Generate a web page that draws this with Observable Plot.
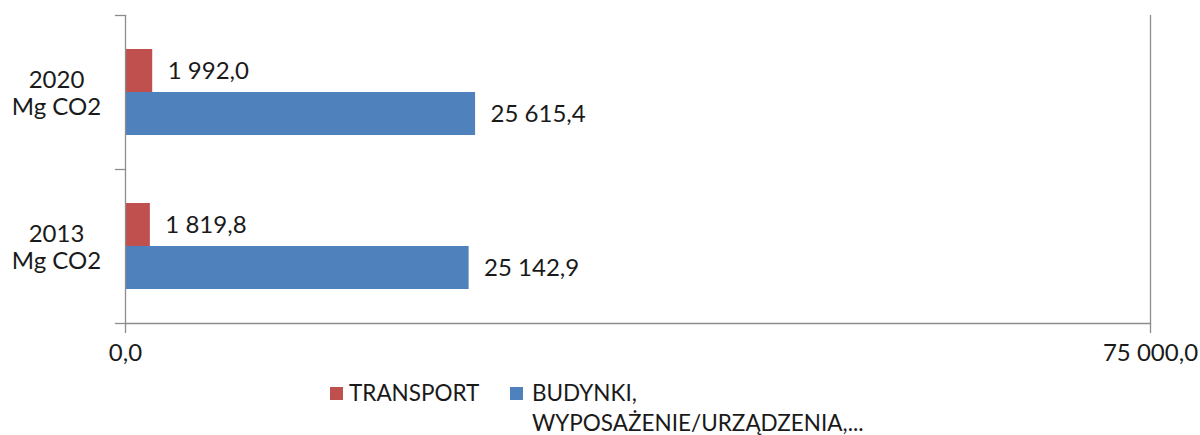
<!DOCTYPE html>
<html>
<head>
<meta charset="utf-8">
<script src="https://cdn.jsdelivr.net/npm/d3@7"></script>
<script src="https://cdn.jsdelivr.net/npm/@observablehq/plot@0.6"></script>
<style>
  html, body { margin: 0; padding: 0; background: #fff; }
  body { width: 1200px; height: 435px; overflow: hidden; font-family: Lato, "Open Sans", sans-serif; color: #1a1a1a; }
  #chart svg { display: block; }
  #legend { position: relative; height: 65px; font-size: 22.5px; line-height: 30px; }
  .item { position: absolute; top: 8px; display: flex; align-items: flex-start; }
  .sw { width: 13px; height: 13px; margin-top: 9px; flex: none; }
</style>
</head>
<body>
<div id="chart"></div>
<div id="legend"></div>
<script>
const years = ["2020", "2013"];
const yearLabels = ["2020\nMg CO2", "2013\nMg CO2"];
const seriesNames = ["TRANSPORT", "BUDYNKI, WYPOSAŻENIE/URZĄDZENIA,..."];
const transportValues = [1992.0, 1819.8];
const budynkiValues = [25615.4, 25142.9];
const xTicks = [0, 75000];
const colors = ["#C0504D", "#4F81BD"];

const locale = d3.formatLocale({decimal: ",", thousands: " ", grouping: [3], currency: ["", ""]});
const fmt = locale.format(",.1f");

const data = [];
years.forEach((yr, i) => {
  data.push({year: yr, series: seriesNames[0], value: transportValues[i]});
  data.push({year: yr, series: seriesNames[1], value: budynkiValues[i]});
});
const yearLabel = new Map(years.map((y, i) => [y, yearLabels[i]]));

const axisColor = "#8c8c8c";
const plotW = 1200 - 125 - 50;

const chart = Plot.plot({
  width: 1200,
  height: 370,
  marginLeft: 125,
  marginRight: 50,
  marginTop: 15,
  marginBottom: 47,
  style: {fontFamily: "Lato, 'Open Sans', sans-serif", fontSize: "24px", color: "#1a1a1a"},
  x: {domain: [0, 75000]},
  y: {domain: seriesNames, paddingInner: 0, paddingOuter: 0.77, axis: null},
  fy: {domain: years, padding: 0},
  color: {domain: seriesNames, range: colors},
  marks: [
    Plot.barX(data, {x: "value", y: "series", fy: "year", fill: "series"}),
    Plot.ruleX(xTicks, {stroke: axisColor, strokeWidth: 1.3}),
    Plot.frame({anchor: "top", facetAnchor: "top", insetLeft: -10, insetRight: plotW, stroke: axisColor, strokeWidth: 1.3}),
    Plot.frame({anchor: "bottom", insetLeft: -10, insetRight: plotW, stroke: axisColor, strokeWidth: 1.3}),
    Plot.frame({anchor: "bottom", facetAnchor: "bottom", stroke: axisColor, strokeWidth: 1.3}),
    Plot.text(data, {x: "value", y: "series", fy: "year", text: d => fmt(d.value), textAnchor: "start", dx: 15, fill: "#1a1a1a"}),
    Plot.axisX({ticks: xTicks, tickFormat: fmt, tickSize: 10, tickPadding: 10, label: null, stroke: axisColor, strokeWidth: 1.3, color: "#1a1a1a"}),
    Plot.axisFy({anchor: "left", tickSize: 0, tickPadding: 69, textAnchor: "middle", tickFormat: d => yearLabel.get(d), lineHeight: 1.15, label: null, color: "#1a1a1a"})
  ]
});
document.getElementById("chart").appendChild(chart);

const legendPos = [330, 510];
const legendGap = [6, 9];
const legendText = [["TRANSPORT"], ["BUDYNKI,", "WYPOSAŻENIE/URZĄDZENIA,..."]];
const legend = document.getElementById("legend");
seriesNames.forEach((s, i) => {
  const it = document.createElement("div");
  it.className = "item";
  it.style.left = legendPos[i] + "px";
  const sw = document.createElement("div");
  sw.className = "sw";
  sw.style.background = colors[i];
  sw.style.marginRight = legendGap[i] + "px";
  const tx = document.createElement("div");
  tx.innerHTML = legendText[i].join("<br>");
  it.appendChild(sw);
  it.appendChild(tx);
  legend.appendChild(it);
});
</script>
</body>
</html>
